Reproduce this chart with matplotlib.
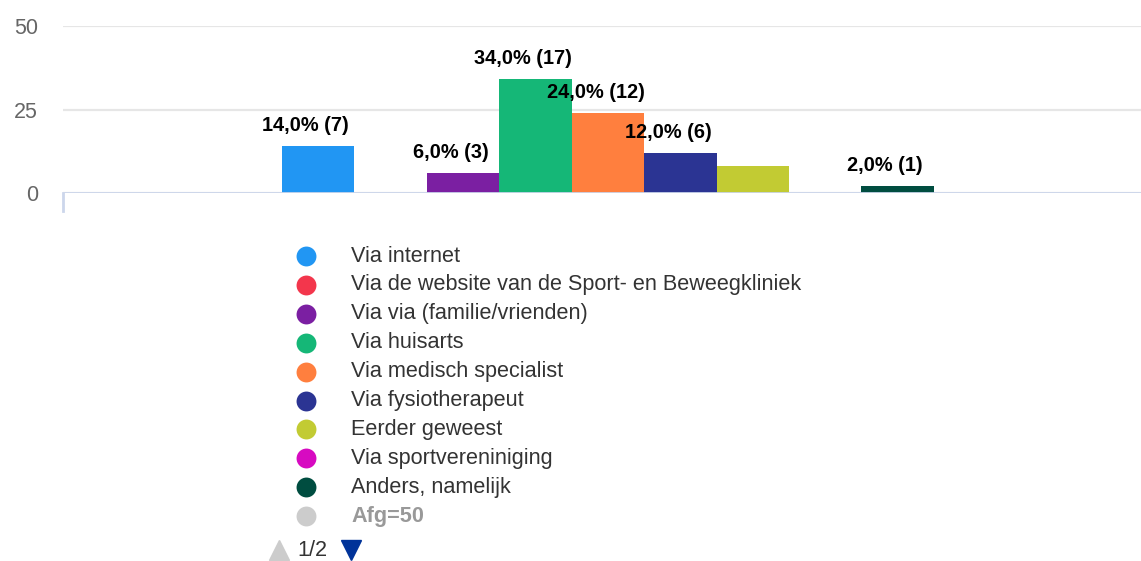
import matplotlib.pyplot as plt
import numpy as np

# data
categories = ['Via internet', 'Via de website van de Sport- en Beweegkliniek',
              'Via via (familie/vrienden)', 'Via huisarts', 'Via medisch specialist',
              'Via fysiotherapeut', 'Eerder geweest', 'Via sportvereniniging',
              'Anders, namelijk']
counts = np.array([7, 0, 3, 17, 12, 6, 4, 0, 1])
total = 50
# labels that the reference actually shows (eerder geweest is hidden by overlap)
show_label = [True, False, True, True, True, True, False, False, True]
colors = ['#2196f3', '#f3364c', '#7b1fa2', '#15b777', '#ff7f3e',
          '#2b3493', '#c2cb33', '#d70ac1', '#004d40']
hidden_name = 'Afg=50'
yticks = [0, 25, 50]

pct = counts / total * 100

plt.rcParams['font.family'] = ['Liberation Sans', 'DejaVu Sans']

W, H = 1141, 561
fig = plt.figure(figsize=(W / 100, H / 100), dpi=100)
ax = fig.add_axes([63 / W, 1 - 193 / H, 1 - 63 / W, (193 - 26) / H])

x = np.arange(len(categories))
ax.bar(x, pct, width=1.0, color=colors, linewidth=0, zorder=3)

for xi, p, c, s in zip(x, pct, counts, show_label):
    if not s:
        continue
    lab = ('%.1f%% (%d)' % (p, c)).replace('.', ',')
    ax.annotate(lab, (xi, p), xytext=(-9, 15), textcoords='offset points',
                ha='center', va='center', fontsize=14.4, fontweight='bold',
                color='#000000', zorder=5)

ax.set_xlim(-3.525, 11.36)
ax.set_ylim(0, 50)
ax.set_yticks(yticks)
ax.set_xticks([])
ax.tick_params(axis='y', length=0, pad=18, labelsize=15.5, labelcolor='#666666')
for sp in ax.spines.values():
    sp.set_visible(False)
ax.grid(axis='y', color='#e6e6e6', linewidth=1.6, zorder=0)
ax.axhline(0, color='#ccd6eb', linewidth=2, zorder=4)

# overlay in pixel coordinates for legend and decorations
ov = fig.add_axes([0, 0, 1, 1], zorder=-1)
ov.set_xlim(0, W)
ov.set_ylim(H, 0)
ov.axis('off')
ov.plot([63, 63], [193, 211], color='#ccd6eb', linewidth=2)

leg_names = categories + [hidden_name]
leg_colors = colors + ['#cccccc']
for i, (n, c) in enumerate(zip(leg_names, leg_colors)):
    yy = 256 + 28.9 * i
    ov.scatter([306], [yy], s=205, color=c, linewidth=0)
    if n == hidden_name:
        ov.text(351, yy, n, fontsize=15.6, fontweight='bold', color='#999999',
                va='center', ha='left')
    else:
        ov.text(351, yy, n, fontsize=15.6, color='#333333',
                va='center', ha='left')

ov.plot([279], [550], marker='^', markersize=14, color='#cccccc', linewidth=0)
ov.text(297, 550, '1/2', fontsize=15.6, color='#333333', va='center', ha='left')
ov.plot([351], [550], marker='v', markersize=14, color='#003399', linewidth=0)

fig.savefig('out.png', dpi=100)
